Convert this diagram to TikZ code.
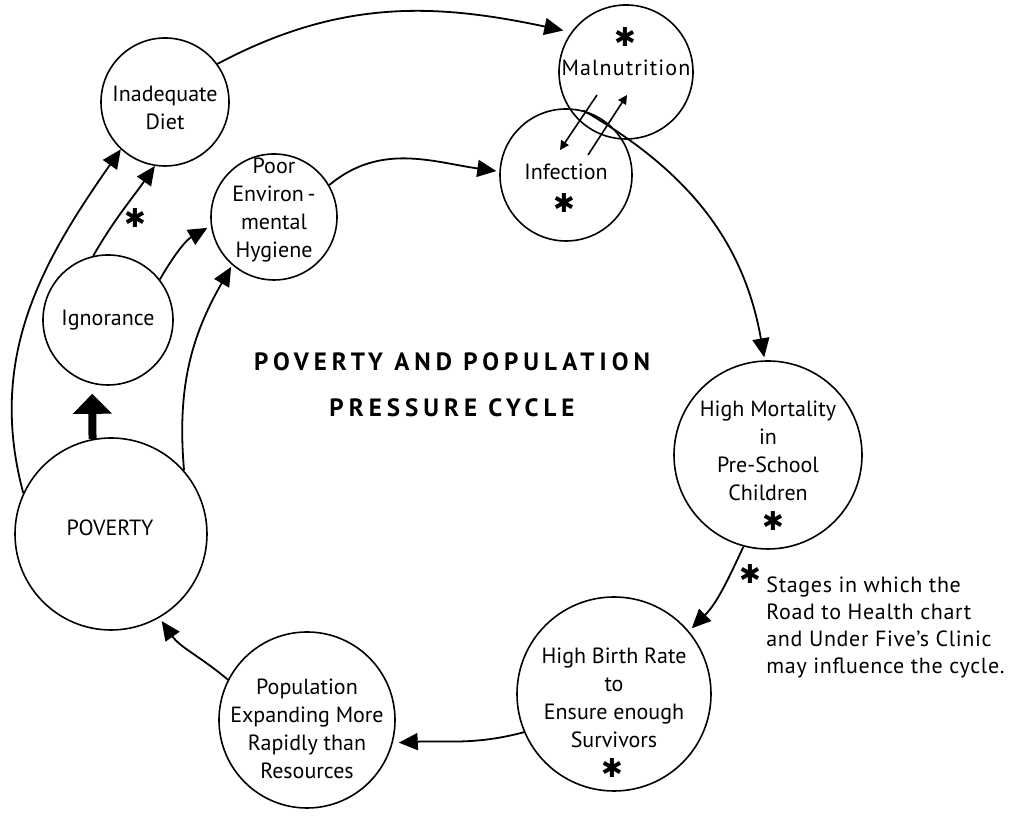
\documentclass[tikz,border=0pt]{standalone}
\usepackage{fontspec}
\setmainfont{PT Sans}
\newfontfamily\symfont{DejaVu Sans}
\usetikzlibrary{arrows.meta, calc}

\begin{document}
\begin{tikzpicture}[
  x=0.5pt, y=0.5pt,
  font=\fontsize{11}{14}\selectfont,
  stage/.style={draw, circle, line width=0.8pt, inner sep=0pt},
  txt/.style={align=center, inner sep=0pt},
  starmark/.style={font=\symfont\bfseries\fontsize{13}{13}\selectfont, inner sep=0pt},
  link/.style={line width=0.9pt, -{Triangle[length=9.5pt,width=8.5pt]}},
  bigup/.style={line width=4pt, -{Triangle[length=10pt,width=19pt]}},
  swap/.style={line width=0.8pt, -{Triangle[length=4.5pt,width=4.5pt]}}
]
\useasboundingbox (0,0) rectangle (1016,822);
\node[stage, minimum size=64pt] (diet) at (165,720) {};
\node[stage, minimum size=63pt] (hygiene) at (274,605) {};
\node[stage, minimum size=65pt] (ignorance) at (108,502) {};
\node[stage, minimum size=96pt] (poverty) at (111,288) {};
\node[stage, minimum size=88pt] (population) at (307,102) {};
\node[stage, minimum size=97pt] (birth) at (614,128) {};
\node[stage, minimum size=94pt] (mortality) at (768,367) {};
\node[stage, minimum size=67pt] (malnut) at (626,750) {};
\node[stage, minimum size=66pt] (infection) at (566,647) {};

\node[txt] (dietT) at (165,714) {Inadequate\\Diet};
\node[txt] (hygieneT) at (274,612) {Poor\\Environ\,-\\mental\\Hygiene};
\node[txt] (ignoranceT) at (108,502) {Ignorance};
\node[txt] (povertyT) at (110,294) {POVERTY};
\node[txt] (populationT) at (307,93) {Population\\Expanding More\\Rapidly than\\Resources};
\node[txt] (birthT) at (614,124) {High Birth Rate\\to\\Ensure enough\\Survivors};
\node[txt] (mortalityT) at (768,371) {High Mortality\\in\\Pre-School\\Children};
\node[txt, font=\fontsize{11}{14}\selectfont\addfontfeatures{LetterSpace=5}] (malnutT) at (626,754) {Malnutrition};
\node[txt] (infectionT) at (566,650) {Infection};

\node[starmark] (malnutS) at (625,785) {✱};
\node[starmark] (infectionS) at (564,619) {✱};
\node[starmark] (mortalityS) at (773,301) {✱};
\node[starmark] (birthS) at (612,54) {✱};
\node[starmark] (ignoranceS) at (135,604) {✱};
\node[starmark] (noteS) at (750,248) {✱};
\node[anchor=west, align=left, inner sep=0pt, font=\fontsize{11}{13.5}\selectfont\addfontfeatures{LetterSpace=3}] (note) at (766,195)
  {Stages in which the\\Road to Health chart\\and Under Five's Clinic\\may influence the cycle.};

\node[txt, font=\bfseries\fontsize{12.5}{23}\selectfont\addfontfeatures{LetterSpace=20}] (title) at (452,437)
  {POVERTY AND POPULATION\\PRESSURE CYCLE};

\draw[link, shorten >=4pt] (diet.36) to[out=28, in=168] (malnut.144);
\draw[link, shorten >=1.5pt] (hygiene.30) to[out=40, in=172] (infection.177);
\draw[link, shorten >=1.5pt] (infection.75) to[out=-30, in=100] (mortality.92);
\draw[link, shorten >=2pt] (mortality.-105) to[out=-115, in=45] (birth.40);
\draw[link, shorten >=3pt] (birth.203) to[out=195, in=3] (population.-15);
\draw[link, shorten >=2pt] (population.153) to[out=140, in=-55] (poverty.-60);
\draw[bigup, shorten >=5pt] (poverty.101) -- (ignorance.-104);
\draw[link] (poverty.155) to[out=105, in=-125] (diet.-133);
\draw[link, shorten >=1pt] (poverty.41) to[out=95, in=-120] (hygiene.-131);
\draw[link] (ignorance.103) to[out=60, in=-125] (diet.-99);
\draw[link, shorten >=2pt] (ignorance.38) to[out=60, in=210] (hygiene.188);
\draw[swap] ($(malnut)+(-29,-23)$) -- ($(infection)+(-6,25)$);
\draw[swap] ($(infection)+(22,20)$) -- ($(malnut)+(1,-23)$);
\end{tikzpicture}
\end{document}
